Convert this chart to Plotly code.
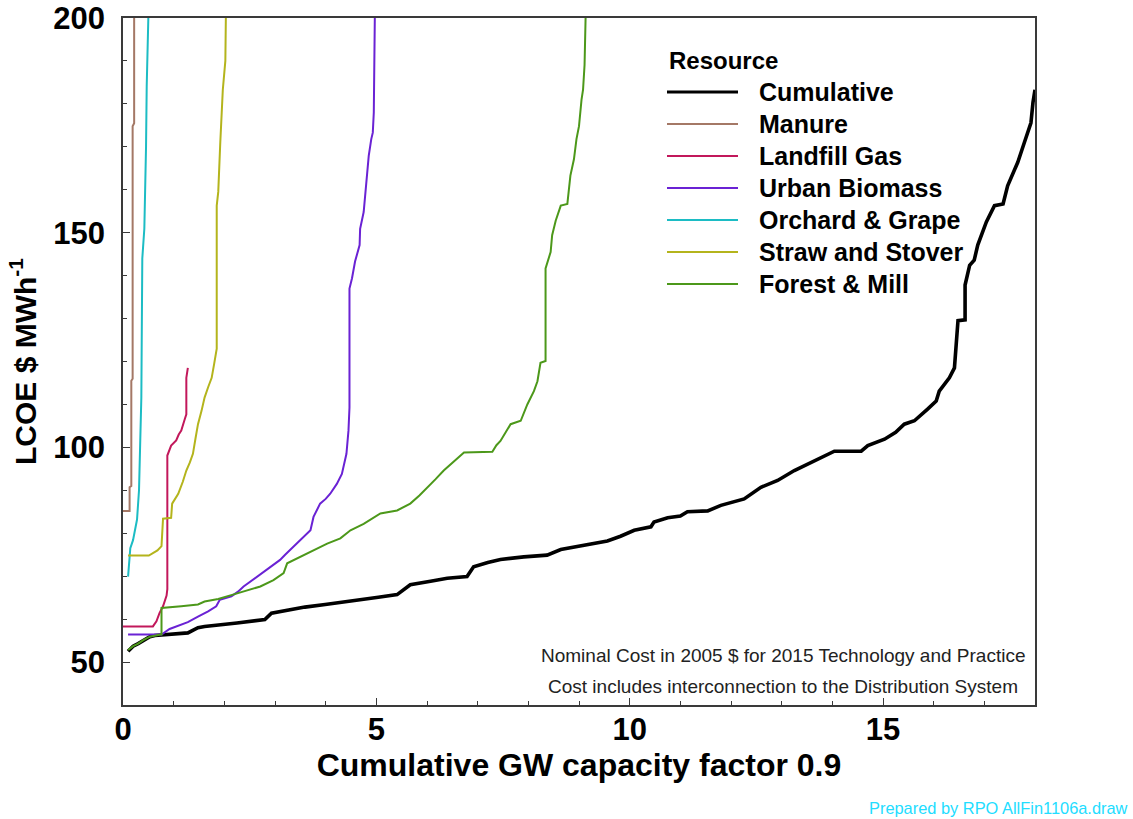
import plotly.graph_objects as go

# Supply curves: cumulative capacity (GW, capacity factor 0.9) vs LCOE ($/MWh).
# Each series is a polyline through points.
cum_x = [0.10, 0.20, 0.30, 0.40, 0.53, 0.63, 1.28, 1.48, 1.61, 2.25, 2.50, 2.80, 2.93, 3.20, 3.59,
         3.99, 4.38, 4.78, 5.04, 5.41, 5.55, 5.67, 6.07, 6.40, 6.79, 6.92, 7.20, 7.45, 7.91, 8.37,
         8.64, 9.10, 9.56, 9.82, 10.09, 10.42, 10.48, 10.75, 11.00, 11.14, 11.54, 11.80, 12.05, 12.26,
         12.59, 12.92, 13.25, 13.58, 13.84, 14.04, 14.57, 14.70, 15.03, 15.25, 15.42, 15.62, 15.88,
         16.05, 16.11, 16.31, 16.41, 16.44, 16.48, 16.62, 16.62, 16.71, 16.80, 16.87, 16.97, 17.04,
         17.20, 17.37, 17.46, 17.66, 17.79, 17.92, 17.96, 18.00]
cum_y = [52.5, 53.7, 54.3, 55.1, 55.9, 56.2, 56.8, 58.0, 58.3, 59.1, 59.5, 59.9, 61.4, 62.0, 62.8,
         63.4, 64.1, 64.7, 65.1, 65.7, 67.0, 68.0, 68.8, 69.5, 69.9, 72.2, 73.2, 73.9, 74.5, 74.9,
         76.2, 77.2, 78.2, 79.3, 80.7, 81.5, 82.6, 83.6, 84.0, 85.0, 85.2, 86.5, 87.2, 88.0,
         90.7, 92.3, 94.6, 96.5, 98.1, 99.1, 99.1, 100.4, 101.9, 103.5, 105.4, 106.2, 108.9,
         110.8, 113.1, 116.2, 118.5, 123.9, 129.5, 129.7, 137.8, 142.4, 143.6, 147.1, 150.2, 152.5,
         156.3, 156.7, 160.9, 166.4, 171.0, 175.6, 180.3, 183.3]

manure_x = [0.00, 0.13, 0.13, 0.164, 0.164, 0.19, 0.19, 0.22, 0.22]
manure_y = [85.2, 85.2, 90.7, 91.0, 115.5, 116.0, 174.8, 175.5, 200]

landfill_x = [0.00, 0.59, 0.66, 0.72, 0.79, 0.86, 0.875, 0.875, 0.95, 1.05, 1.10, 1.15, 1.22, 1.25, 1.25, 1.28]
landfill_y = [58.3, 58.3, 59.5, 61.4, 63.0, 65.5, 67.0, 98.1, 100.4, 101.6, 103.0, 103.9, 106.6, 107.7, 116.2, 118.5]

urban_x = [0.10, 0.76, 0.92, 1.12, 1.28, 1.48, 1.68, 1.84, 1.91, 2.14, 2.27, 2.38, 2.52, 2.64, 2.78,
           2.91, 3.10, 3.20, 3.30, 3.40, 3.50, 3.60, 3.70, 3.76, 3.89, 4.00, 4.09, 4.22, 4.32, 4.41,
           4.45, 4.47, 4.47, 4.52, 4.58, 4.67, 4.68, 4.75, 4.78, 4.82, 4.85, 4.90, 4.93, 4.95, 4.97]
urban_y = [56.4, 56.4, 57.7, 58.5, 59.3, 60.6, 61.8, 63.0, 64.5, 65.3, 66.4, 67.6, 68.8, 69.9, 71.0,
           72.2, 73.8, 75.0, 76.1, 77.2, 78.4, 79.5, 80.7, 83.8, 86.9, 88.0, 89.2, 91.5, 93.8, 98.5,
           103.9, 109.3, 137.0, 139.4, 143.3, 147.1, 150.9, 154.8, 159.4, 164.0, 167.9, 171.8, 173.3, 178.0, 200]

orchard_x = [0.10, 0.144, 0.198, 0.243, 0.277, 0.316, 0.342, 0.362, 0.381, 0.421, 0.455, 0.468, 0.50]
orchard_y = [69.9, 76.5, 78.4, 81.1, 83.2, 90.0, 104.6, 111.6, 144.0, 150.9, 170.2, 184.1, 200]

straw_x = [0.10, 0.51, 0.68, 0.76, 0.79, 0.95, 0.97, 1.09, 1.18, 1.25, 1.32, 1.38, 1.43, 1.48, 1.55,
           1.61, 1.68, 1.75, 1.80, 1.85, 1.85, 1.88, 1.92, 1.97, 2.02, 2.03]
straw_y = [74.8, 74.8, 76.0, 77.0, 83.4, 83.6, 86.9, 89.2, 92.0, 94.6, 96.5, 98.5, 102.0, 105.4, 108.5,
           111.6, 114.0, 116.2, 119.5, 123.0, 156.3, 159.5, 171.0, 183.3, 190.0, 200]

forest_x = [0.10, 0.20, 0.30, 0.40, 0.53, 0.63, 0.74, 0.76, 0.76, 1.15, 1.48, 1.61, 1.88, 2.17, 2.38,
            2.71, 2.97, 3.17, 3.24, 3.50, 3.76, 4.03, 4.29, 4.49, 4.75, 5.08, 5.41, 5.67, 5.85, 6.00,
            6.17, 6.33, 6.53, 6.73, 7.29, 7.37, 7.45, 7.55, 7.65, 7.85, 7.98, 8.11, 8.18, 8.24, 8.34,
            8.34, 8.44, 8.47, 8.54, 8.64, 8.77, 8.83, 8.90, 8.95, 9.00, 9.05, 9.08, 9.11, 9.13]
forest_y = [52.8, 53.7, 54.3, 55.1, 55.9, 56.2, 56.4, 56.4, 62.6, 63.0, 63.4, 64.1, 64.7, 65.7, 66.4,
            67.6, 69.1, 70.7, 73.0, 74.5, 76.1, 77.6, 78.8, 80.7, 82.2, 84.6, 85.3, 86.9, 88.8, 90.7,
            92.6, 94.6, 96.7, 98.8, 99.0, 100.5, 101.5, 103.5, 105.4, 106.2, 110.0, 113.1, 115.4, 119.7, 120.1,
            141.7, 145.5, 149.4, 152.8, 156.3, 156.7, 163.3, 167.1, 171.8, 174.8, 181.0, 183.3, 189.1, 200]

series_names = ["Cumulative", "Manure", "Landfill Gas", "Urban Biomass",
                "Orchard & Grape", "Straw and Stover", "Forest & Mill"]
series_x = [cum_x, manure_x, landfill_x, urban_x, orchard_x, straw_x, forest_x]
series_y = [cum_y, manure_y, landfill_y, urban_y, orchard_y, straw_y, forest_y]
series_colors = ["#000000", "#a47866", "#c2185b", "#6a22d4", "#1cbcc4", "#b4b41c", "#4c981a"]
series_widths = [3.6, 2, 2, 2, 2, 2, 2]

x_ticks = [0, 5, 10, 15]
y_ticks = [50, 100, 150, 200]

FONT = "Liberation Sans, Arial, sans-serif"

W, H = 1133, 819
ML, MR, MT, MB = 123, 98, 18, 114
PW, PH = W - ML - MR, H - MT - MB


def px_x(p):
    return (p - ML) / PW


def px_y(p):
    return (H - MB - p) / PH


fig = go.Figure()
for name, xs, ys, col, lw in zip(series_names, series_x, series_y, series_colors, series_widths):
    fig.add_trace(go.Scatter(x=xs, y=ys, mode="lines", name=name,
                             line=dict(color=col, width=lw), showlegend=False))

axis_common = dict(showline=True, linecolor="#3a3a3a", linewidth=1.5, mirror=True,
                   ticks="inside", tickcolor="#3a3a3a", ticklen=7, tickwidth=1,
                   showgrid=False, zeroline=False, automargin=False,
                   tickfont=dict(family=FONT, size=31, color="#000", weight="bold"))

fig.update_xaxes(range=[0, 18], tickvals=x_ticks, ticklabelstandoff=-4,
                 minor=dict(ticks="inside", dtick=1, ticklen=4, tickcolor="#3a3a3a"),
                 title=dict(text="<b>Cumulative GW capacity factor 0.9</b>",
                            font=dict(family=FONT, size=32, color="#000"), standoff=6),
                 **axis_common)
fig.update_yaxes(range=[40, 200], tickvals=y_ticks, ticklabelstandoff=10,
                 minor=dict(ticks="inside", dtick=10, ticklen=4, tickcolor="#3a3a3a"),
                 title=dict(text="<b>LCOE $ MWh<sup>-1</sup></b>",
                            font=dict(family=FONT, size=30, color="#000"), standoff=8),
                 **axis_common)

# Legend drawn as line samples plus labels
fig.add_annotation(x=px_x(667), y=px_y(60), xref="paper", yref="paper", xanchor="left",
                   yanchor="middle", text="<b>Resource</b>", showarrow=False,
                   font=dict(family=FONT, size=24, color="#000"))
for k, (name, col, lw) in enumerate(zip(series_names, series_colors, series_widths)):
    yy = px_y(92 + 32 * k)
    fig.add_shape(type="line", xref="paper", yref="paper", x0=px_x(667), x1=px_x(738),
                  y0=yy, y1=yy, line=dict(color=col, width=3 if k == 0 else 2))
    fig.add_annotation(x=px_x(757), y=yy, xref="paper", yref="paper", xanchor="left",
                       yanchor="middle", text=f"<b>{name}</b>", showarrow=False,
                       font=dict(family=FONT, size=25, color="#000"))

for txt, py in [("Nominal Cost in 2005 $ for 2015 Technology and Practice", 655),
                ("Cost includes interconnection to the Distribution System", 686)]:
    fig.add_annotation(x=px_x(783), y=px_y(py), xref="paper", yref="paper", xanchor="center",
                       yanchor="middle", text=txt, showarrow=False,
                       font=dict(family=FONT, size=19, color="#222"))

fig.add_annotation(x=px_x(1130), y=px_y(808), xref="paper", yref="paper", xanchor="right",
                   yanchor="middle", text="Prepared by RPO AllFin1106a.draw", showarrow=False,
                   font=dict(family=FONT, size=16.4, color="#22ddff"))

fig.update_layout(width=W, height=H, margin=dict(l=ML, r=MR, t=MT, b=MB),
                  paper_bgcolor="white", plot_bgcolor="white", showlegend=False)

fig.write_html("out.html")
